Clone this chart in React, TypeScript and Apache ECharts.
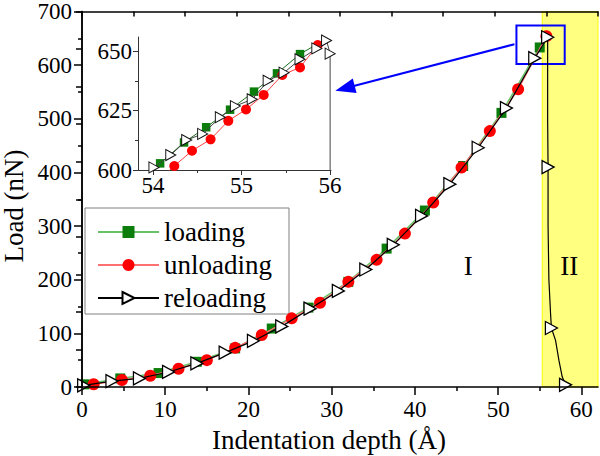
import React, { useEffect, useRef } from 'react';
import * as echarts from 'echarts';

const FONT = 'Liberation Serif';

// [depth (Å), load (nN), marker shown (1) or not (0)]
const loadingMain = [
  [0.3, 5, 1], [4.6, 16, 1], [9.2, 26, 1], [13.8, 47, 1], [18.4, 72, 1], [22.8, 109, 1],
  [27.2, 148, 1], [32.0, 196, 1], [36.6, 258, 1], [41.2, 329, 1], [45.8, 412, 1],
  [50.4, 511, 1], [55.0, 633, 1], [55.9, 652, 0],
];
const unloadingMain = [
  [55.9, 655, 0], [55.8, 654, 1], [52.4, 555, 1], [49.0, 477, 1], [45.6, 409, 1], [42.2, 344, 1],
  [38.8, 286, 1], [35.4, 237, 1], [32.0, 196, 1], [28.6, 157, 1], [25.2, 128, 1], [21.6, 97, 1],
  [18.4, 73, 1], [15.0, 50, 1], [11.6, 34, 1], [8.2, 21, 1], [4.8, 13, 1], [1.4, 5, 1], [0.6, 0, 0],
];
const reloadingMain = [
  [0.2, 3, 1], [3.6, 11, 1], [6.9, 16, 1], [10.4, 28, 1], [13.8, 44, 1], [17.2, 64, 1],
  [20.6, 86, 1], [24.0, 113, 1], [27.4, 146, 1], [30.8, 179, 1], [34.1, 219, 1], [37.4, 265, 1],
  [40.8, 319, 1], [44.2, 378, 1], [47.6, 446, 1], [51.0, 520, 1], [54.4, 613, 1], [55.95, 652, 1],
  [55.95, 500, 0], [56.0, 410, 1], [56.0, 300, 0], [56.1, 200, 0], [56.3, 137, 0], [56.4, 110, 1],
  [56.9, 87, 0], [57.3, 50, 0], [57.7, 19, 0], [58.1, 4, 1],
];

const loadingInset = [
  [53.92, 599, 0], [54.08, 602.8, 1], [54.35, 611.6, 1], [54.6, 618.0, 1], [54.87, 625.4, 1],
  [55.14, 633.0, 1], [55.4, 640.7, 1], [55.66, 648.8, 1], [55.9, 654, 0],
];
const unloadingInset = [
  [55.88, 654, 0], [55.86, 652.6, 1], [55.66, 643.2, 1], [55.46, 640.0, 1], [55.25, 631.6, 1],
  [55.05, 625.5, 1], [54.85, 620.7, 1], [54.65, 612.9, 1], [54.44, 608.1, 1], [54.24, 601.7, 1],
  [54.1, 597, 0],
];
const reloadingInset = [
  [53.9, 598, 0], [54.01, 601.1, 1], [54.2, 606.3, 1], [54.38, 612.6, 1], [54.56, 615.2, 1],
  [54.76, 622.2, 1], [54.93, 626.9, 1], [55.12, 629.8, 1], [55.3, 637.6, 1], [55.48, 641.0, 1],
  [55.66, 646.6, 1], [55.85, 651.2, 1], [55.96, 654.5, 1], [56.0, 649, 1], [56.0, 560, 0],
];

const mainXMajor = [0, 10, 20, 30, 40, 50, 60];
const mainXMinor = [5, 15, 25, 35, 45, 55];
const insetXMajor = [54, 55, 56];
const insetXMinor = [54.5, 55.5];
const insetYMajor = [600, 625, 650];
const insetYMinor = [612.5, 637.5];

const regionIIStart = 55.3;
const zoomBox = [[52.2, 674], [58.0, 602]];
const arrowFrom = [51.96, 639];
const arrowTo = [31.6, 557];
const regionLabels = [
  { name: 'I', coord: [46.4, 226] },
  { name: 'II', coord: [58.55, 226] },
];

const TRI = 'path://M0,0L12,6.5L0,13Z';

function toData(arr: number[][]) {
  return arr.map(([x, y, m]) => (m ? [x, y] : { value: [x, y], symbol: 'none' }));
}

export default function App() {
  const ref = useRef<HTMLDivElement>(null);
  useEffect(() => {
    if (!ref.current) return;
    const chart = echarts.init(ref.current, undefined, { renderer: 'svg' });
    const black = '#000';
    const tickLabel = { color: black, fontFamily: FONT, fontSize: 23 };
    const option: any = {
      animation: false,
      backgroundColor: '#fff',
      textStyle: { fontFamily: FONT },
      grid: [
        { left: 82, top: 10, right: 2, bottom: 69 },
        { left: 138, top: 37, width: 193, height: 133 },
      ],
      xAxis: [
        {
          gridIndex: 0, type: 'value', min: 0, max: 62, position: 'bottom', z: 10,
          axisLine: { lineStyle: { color: black, width: 1.5 } },
          axisTick: { customValues: mainXMajor, length: 8, lineStyle: { color: black, width: 1.5 } },
          axisLabel: { ...tickLabel, customValues: mainXMajor, margin: 11 },
          splitLine: { show: false },
        },
        {
          gridIndex: 0, type: 'value', min: 0, max: 62, position: 'bottom', z: 10,
          axisLine: { show: false },
          axisTick: { customValues: mainXMinor, length: 4, lineStyle: { color: black, width: 1.5 } },
          axisLabel: { show: false },
          splitLine: { show: false },
        },
        {
          gridIndex: 0, type: 'value', min: 0, max: 62, interval: 6.2, position: 'top', z: 10,
          axisLine: { lineStyle: { color: black, width: 1.5 } },
          axisTick: { inside: true, length: 5, lineStyle: { color: black, width: 1.5 } },
          axisLabel: { show: false },
          splitLine: { show: false },
        },
        {
          gridIndex: 1, type: 'value', min: 53.83, max: 56.01, position: 'bottom',
          axisLine: { lineStyle: { color: '#333', width: 1 } },
          axisTick: { customValues: insetXMajor, length: 5, lineStyle: { color: '#333' } },
          axisLabel: { ...tickLabel, customValues: insetXMajor, margin: 4 },
          splitLine: { show: false },
        },
        {
          gridIndex: 1, type: 'value', min: 53.83, max: 56.01, position: 'bottom',
          axisLine: { show: false },
          axisTick: { customValues: insetXMinor, length: 3, lineStyle: { color: '#333' } },
          axisLabel: { show: false },
          splitLine: { show: false },
        },
      ],
      yAxis: [
        {
          gridIndex: 0, type: 'value', min: 0, max: 700, interval: 100, position: 'left', z: 10,
          axisLine: { show: true, lineStyle: { color: black, width: 1.5 } },
          axisTick: { show: true, length: 8, lineStyle: { color: black, width: 1.5 } },
          minorTick: { show: true, splitNumber: 2, length: 4, lineStyle: { color: black, width: 1.5 } },
          axisLabel: { ...tickLabel, margin: 10 },
          splitLine: { show: false },
        },
        {
          gridIndex: 0, type: 'value', min: 0, max: 700, interval: 70, position: 'right', z: 10,
          axisLine: { show: true, lineStyle: { color: black, width: 1.5 } },
          axisTick: { show: true, inside: true, length: 6, lineStyle: { color: black, width: 1.5 } },
          axisLabel: { show: false },
          splitLine: { show: false },
        },
        {
          gridIndex: 1, type: 'value', min: 600, max: 656, position: 'left',
          axisLine: { show: true, lineStyle: { color: '#333', width: 1 } },
          axisTick: { show: true, customValues: insetYMajor, length: 5, lineStyle: { color: '#333' } },
          axisLabel: { ...tickLabel, customValues: insetYMajor, margin: 6 },
          splitLine: { show: false },
        },
        {
          gridIndex: 1, type: 'value', min: 600, max: 656, position: 'left',
          axisLine: { show: false },
          axisTick: { show: true, customValues: insetYMinor, length: 3, lineStyle: { color: '#333' } },
          axisLabel: { show: false },
          splitLine: { show: false },
        },
      ],
      legend: {
        data: ['loading', 'unloading', 'reloading'],
        orient: 'vertical', left: 85, top: 208,
        itemWidth: 61, itemHeight: 15, itemGap: 3,
        padding: [9, 17, 1, 12],
        borderColor: '#808080', borderWidth: 1, backgroundColor: '#fff',
        textStyle: { fontFamily: FONT, fontSize: 27, color: black, lineHeight: 30 },
        selectedMode: false,
      },
      series: [
        {
          type: 'line', xAxisIndex: 0, yAxisIndex: 0, data: [], z: 1, silent: true,
          markArea: {
            silent: true,
            itemStyle: { color: '#ffff80', borderColor: '#ffff00', borderWidth: 1 },
            data: [[{ xAxis: regionIIStart }, { xAxis: 62 }]],
          },
        },
        {
          name: 'loading', type: 'line', xAxisIndex: 0, yAxisIndex: 0, z: 3,
          data: toData(loadingMain), symbol: 'rect', symbolSize: 10,
          itemStyle: { color: '#0b7d0b' },
          lineStyle: { color: '#66c266', width: 1.5 },
        },
        {
          name: 'unloading', type: 'line', xAxisIndex: 0, yAxisIndex: 0, z: 4,
          data: toData(unloadingMain), symbol: 'circle', symbolSize: 12,
          itemStyle: { color: '#ff0000' },
          lineStyle: { color: '#ff7070', width: 1.5 },
        },
        {
          name: 'reloading', type: 'line', xAxisIndex: 0, yAxisIndex: 0, z: 5,
          data: toData(reloadingMain), symbol: TRI, symbolSize: [12, 13],
          itemStyle: { color: '#fff', borderColor: black, borderWidth: 1.3 },
          lineStyle: { color: black, width: 1.2 },
        },
        {
          type: 'line', xAxisIndex: 0, yAxisIndex: 0, data: [], z: 6, silent: true,
          markArea: {
            silent: true,
            itemStyle: { color: 'rgba(0,0,0,0)', borderColor: '#0000ff', borderWidth: 2 },
            data: [[{ coord: zoomBox[0] }, { coord: zoomBox[1] }]],
          },
          markLine: {
            silent: true,
            symbol: ['none', 'triangle'],
            symbolSize: [15, 20],
            lineStyle: { color: '#0000ff', width: 2, type: 'solid' },
            label: { show: false },
            data: [[{ coord: arrowFrom }, { coord: arrowTo }]],
          },
          markPoint: {
            silent: true,
            symbol: 'circle', symbolSize: 1,
            itemStyle: { color: 'rgba(0,0,0,0)' },
            label: { show: true, position: 'inside', formatter: '{b}', fontFamily: FONT, fontSize: 27, color: black },
            data: regionLabels,
          },
        },
        {
          name: 'loading inset', type: 'line', xAxisIndex: 3, yAxisIndex: 2, z: 3,
          data: toData(loadingInset), symbol: 'rect', symbolSize: 8.5,
          itemStyle: { color: '#0b7d0b' },
          lineStyle: { color: '#1a6e1a', width: 1 },
        },
        {
          name: 'unloading inset', type: 'line', xAxisIndex: 3, yAxisIndex: 2, z: 4,
          data: toData(unloadingInset), symbol: 'circle', symbolSize: 10,
          itemStyle: { color: '#ff0000' },
          lineStyle: { color: '#ff4040', width: 1 },
        },
        {
          name: 'reloading inset', type: 'line', xAxisIndex: 3, yAxisIndex: 2, z: 5,
          data: toData(reloadingInset), symbol: TRI, symbolSize: [10, 11],
          itemStyle: { color: '#fff', borderColor: '#111', borderWidth: 1 },
          lineStyle: { color: '#444', width: 1 },
        },
      ],
      graphic: [
        {
          type: 'text', x: 14, y: 206, rotation: Math.PI / 2,
          style: { text: 'Load (nN)', fontFamily: FONT, fontSize: 27, fill: black, align: 'center', verticalAlign: 'middle' },
        },
        {
          type: 'text', x: 329, y: 440,
          style: { text: 'Indentation depth (Å)', fontFamily: FONT, fontSize: 27, fill: black, align: 'center', verticalAlign: 'middle' },
        },
      ],
    };
    chart.setOption(option);
    return () => chart.dispose();
  }, []);
  return <div ref={ref} style={{ width: 600, height: 456, position: 'absolute', left: 0, top: 0 }} />;
}
